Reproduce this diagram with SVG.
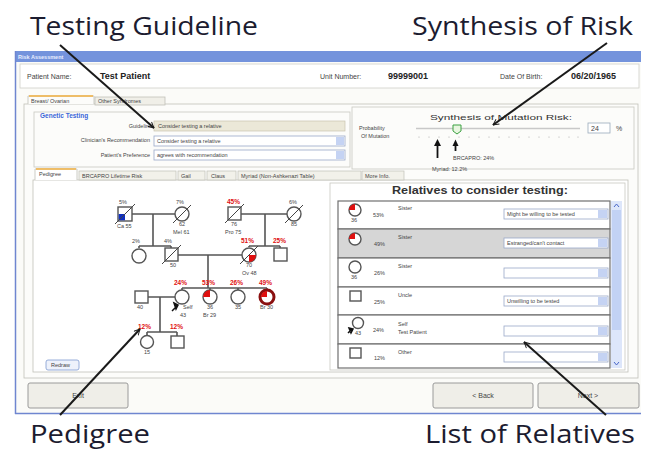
<svg xmlns="http://www.w3.org/2000/svg" width="650" height="451" viewBox="0 0 650 451">
<defs>
<style>
.cap{font-family:"Open Sans","Noto Sans","Liberation Sans",sans-serif;font-size:26px;fill:#1c1c30}
.t{font-family:"Liberation Sans",Arial,sans-serif;font-size:7px;fill:#444}
.tb{font-family:"Liberation Sans",Arial,sans-serif;font-size:9px;font-weight:bold;fill:#222}
.tr{font-family:"Liberation Sans",Arial,sans-serif;font-size:6.5px;font-weight:bold;fill:#e01010}
.ts{font-family:"Liberation Sans",Arial,sans-serif;font-size:5.5px;fill:#444}
.ln{stroke:#555;stroke-width:1.6;fill:none}
.sym{stroke:#555;stroke-width:1.4;fill:#fff}
.sl{stroke:#444;stroke-width:1}
.dd{fill:#fff;stroke:#9aa9c8;stroke-width:0.8}
.dda{fill:#c5d3f3;stroke:none}
.btn{fill:#efeee8;stroke:#9a9a9a;stroke-width:1}
.grp{fill:none;stroke:#c8c8c0;stroke-width:0.8}
.arr{stroke:#1a1a1a;stroke-width:2;fill:none}
.row{fill:#fff;stroke:#707070;stroke-width:1.2}
</style>
<marker id="ah" viewBox="0 0 12 12" refX="11" refY="6" markerWidth="7" markerHeight="7" orient="auto" markerUnits="userSpaceOnUse">
<path d="M1,1 L11,6 L1,11" fill="none" stroke="#1a1a1a" stroke-width="1.6"/>
</marker>
</defs>
<rect width="650" height="451" fill="#fff"/>

<!-- captions -->
<text class="cap" x="30" y="35" textLength="228" lengthAdjust="spacingAndGlyphs">Testing Guideline</text>
<text class="cap" x="412" y="35" textLength="221" lengthAdjust="spacingAndGlyphs">Synthesis of Risk</text>
<text class="cap" x="30" y="443" textLength="120" lengthAdjust="spacingAndGlyphs">Pedigree</text>
<text class="cap" x="425" y="443" textLength="210" lengthAdjust="spacingAndGlyphs">List of Relatives</text>

<!-- window -->
<g id="window">
<rect x="15" y="51" width="626" height="363" fill="#fbfbf8"/>
<rect x="15" y="51" width="626" height="11" fill="#7493dc"/>
<text x="18" y="59" font-family="Liberation Sans,sans-serif" font-size="5.5" fill="#e8eeff" font-weight="bold">Risk Assessment</text>
<line x1="15.5" y1="51" x2="15.5" y2="414" stroke="#6f86d0" stroke-width="1.5"/>
<line x1="15" y1="413.5" x2="641" y2="413.5" stroke="#6f86d0" stroke-width="1.5"/>
<rect x="20" y="64" width="619" height="24" fill="#fff" stroke="#d0d0c8" stroke-width="0.8"/>
<text class="t" x="27" y="79" font-size="7.5">Patient Name:</text>
<text class="tb" x="100" y="79">Test Patient</text>
<text class="t" x="320" y="79" font-size="7.5">Unit Number:</text>
<text class="tb" x="388" y="79">99999001</text>
<text class="t" x="500" y="79" font-size="7.5">Date Of Birth:</text>
<text class="tb" x="571" y="79">06/20/1965</text>
</g>

<!-- outer tabs -->
<g id="outer-tabs">
<rect x="24" y="104" width="614" height="274" fill="#fcfcfa" stroke="#c0c0b8" stroke-width="0.8"/>
<path d="M28,104 V96 H94 V104" fill="#fcfcfa" stroke="#c0c0b8" stroke-width="0.8"/>
<line x1="29" y1="96" x2="93" y2="96" stroke="#f2b040" stroke-width="1.5"/>
<text class="ts" x="31" y="102.5">Breast/ Ovarian</text>
<rect x="95" y="97" width="70" height="8" fill="#f0efe8" stroke="#c0c0b8" stroke-width="0.8"/>
<text class="ts" x="98" y="103">Other Syndromes</text>
</g>

<!-- genetic testing -->
<g id="genetic-testing">
<rect class="grp" x="34" y="112" width="316" height="55"/>
<text x="40" y="118" font-family="Liberation Sans,sans-serif" font-size="6.5" font-weight="bold" fill="#3a66d8">Genetic Testing</text>
<text class="ts" x="152" y="128" text-anchor="end">Guideline</text>
<rect x="154" y="121" width="191" height="10" fill="#ebe8d8" stroke="#c8c4b0" stroke-width="0.7"/>
<text class="ts" x="158" y="128">Consider testing a relative</text>
<text class="ts" x="150" y="142" text-anchor="end">Clinician's Recommendation</text>
<rect class="dd" x="154" y="136" width="191" height="10"/>
<rect class="dda" x="336" y="137" width="8" height="8"/>
<text class="ts" x="157" y="143">Consider testing a relative</text>
<text class="ts" x="150" y="157" text-anchor="end">Patient's Preference</text>
<rect class="dd" x="154" y="150" width="191" height="10"/>
<rect class="dda" x="336" y="151" width="8" height="8"/>
<text class="ts" x="157" y="157">agrees with recommendation</text>
</g>

<!-- synthesis -->
<g id="synthesis">
<rect class="grp" x="352" y="107" width="282" height="62"/>
<text x="430" y="120" font-family="Liberation Sans,sans-serif" font-size="8" fill="#333" textLength="142" lengthAdjust="spacingAndGlyphs">Synthesis of Mutation Risk:</text>
<text class="ts" x="359" y="130">Probability</text>
<text class="ts" x="361" y="138">Of Mutation</text>
<line x1="416" y1="128.5" x2="580" y2="128.5" stroke="#c8c8c8" stroke-width="1.5"/>
<g fill="#aaa">
<circle cx="419" cy="137" r="0.6"/><circle cx="429" cy="137" r="0.6"/><circle cx="439" cy="137" r="0.6"/><circle cx="449" cy="137" r="0.6"/><circle cx="459" cy="137" r="0.6"/><circle cx="469" cy="137" r="0.6"/><circle cx="479" cy="137" r="0.6"/><circle cx="489" cy="137" r="0.6"/><circle cx="499" cy="137" r="0.6"/><circle cx="509" cy="137" r="0.6"/><circle cx="519" cy="137" r="0.6"/><circle cx="529" cy="137" r="0.6"/><circle cx="539" cy="137" r="0.6"/><circle cx="549" cy="137" r="0.6"/><circle cx="559" cy="137" r="0.6"/><circle cx="569" cy="137" r="0.6"/><circle cx="578" cy="137" r="0.6"/>
</g>
<path d="M453,125 H461 V131 L457,134 L453,131 Z" fill="#e8f6e0" stroke="#3aa040" stroke-width="1"/>
<rect x="588" y="123" width="22" height="10" fill="#fff" stroke="#9ab" stroke-width="0.8"/>
<text class="t" x="591" y="131">24</text>
<text class="t" x="616" y="131">%</text>
<text class="ts" x="453" y="160">BRCAPRO: 24%</text>
<text class="ts" x="432" y="171">Myriad: 12.2%</text>
</g>

<!-- pedigree tabs -->
<g id="pedigree-tabs">
<rect x="33" y="180" width="595" height="192" fill="#fff" stroke="#c0c0b8" stroke-width="0.8"/>
<path d="M35,180 V169 H77 V180" fill="#fff" stroke="#c0c0b8" stroke-width="0.8"/>
<line x1="36" y1="169" x2="76" y2="169" stroke="#f2b040" stroke-width="1.5"/>
<text class="ts" x="39" y="176">Pedigree</text>
<rect x="79" y="171" width="97" height="9" fill="#f2f1ea" stroke="#c0c0b8" stroke-width="0.7"/>
<text class="ts" x="82" y="177.5">BRCAPRO Lifetime Risk</text>
<rect x="178" y="171" width="27" height="9" fill="#f2f1ea" stroke="#c0c0b8" stroke-width="0.7"/>
<text class="ts" x="181" y="177.5">Gail</text>
<rect x="207" y="171" width="29" height="9" fill="#f2f1ea" stroke="#c0c0b8" stroke-width="0.7"/>
<text class="ts" x="211" y="177.5">Claus</text>
<rect x="238" y="171" width="123" height="9" fill="#f2f1ea" stroke="#c0c0b8" stroke-width="0.7"/>
<text class="ts" x="241" y="177.5">Myriad (Non-Ashkenazi Table)</text>
<rect x="362" y="171" width="42" height="9" fill="#f2f1ea" stroke="#c0c0b8" stroke-width="0.7"/>
<text class="ts" x="365" y="177.5">More Info.</text>
<rect x="46" y="360" width="33" height="10" rx="2" fill="#eef2fb" stroke="#7f9bd0" stroke-width="0.8"/>
<text class="ts" x="51" y="367">Redraw</text>
</g>

<!-- pedigree connectors -->
<g id="pedigree-lines" class="ln">
<path d="M132,214 H175 M153,214 V246 M139,246 H171 M139,246 V248 M171,246 V248"/>
<path d="M241,214 H287 M265,214 V246 M249,246 H280 M249,246 V247 M280,246 V248"/>
<path d="M178,255 H242 M208,255 V288 M182,288 H267 M182,288 V290 M210,288 V290 M238,288 V290 M267,288 V290"/>
<path d="M148,297 H175 M160,297 V332 M147,332 H177 M147,332 V335 M177,332 V336"/>
</g>

<!-- pedigree nodes -->
<g id="p-A"><rect class="sym" x="118" y="207" width="14" height="14"/><rect x="118.7" y="214" width="6.3" height="6.3" fill="#1030c0"/><line class="sl" x1="115" y1="224" x2="135" y2="204"/><text class="ts" x="119" y="204">5%</text><text class="ts" x="117" y="228">Ca 55</text></g>
<g id="p-B"><circle class="sym" cx="182" cy="214" r="7" fill="#6a6a6a"/><line class="sl" x1="173" y1="223" x2="191" y2="205"/><text class="ts" x="176" y="204">7%</text><text class="ts" x="179" y="226">62</text><text class="ts" x="173" y="234">Mel 61</text></g>
<g id="p-C"><rect class="sym" x="228" y="207" width="13" height="13" fill="#5a5a5a"/><line class="sl" x1="225" y1="223" x2="244" y2="204"/><text class="tr" x="227" y="204">45%</text><text class="ts" x="231" y="226">76</text><text class="ts" x="225" y="234">Pro 75</text></g>
<g id="p-D"><circle class="sym" cx="294" cy="214" r="7"/><line class="sl" x1="285" y1="223" x2="303" y2="205"/><text class="ts" x="289" y="204">6%</text><text class="ts" x="291" y="226">85</text></g>
<g id="p-E"><circle class="sym" cx="139" cy="256" r="7"/><text class="ts" x="132" y="243">2%</text></g>
<g id="p-F"><rect class="sym" x="165" y="248" width="13" height="13"/><line class="sl" x1="162" y1="264" x2="181" y2="245"/><text class="ts" x="164" y="243">4%</text><text class="ts" x="170" y="267">50</text></g>
<g id="p-G"><circle class="sym" cx="249" cy="255" r="7"/><path d="M249,255 H256 A7,7 0 0 1 249,262 Z" fill="#e01010"/><line class="sl" x1="240" y1="264" x2="258" y2="246"/><text class="tr" x="241" y="243">51%</text><text class="ts" x="246" y="267">70</text><text class="ts" x="242" y="275">Ov 48</text></g>
<g id="p-H"><rect class="sym" x="274" y="248" width="13" height="13"/><text class="tr" x="273" y="243">25%</text></g>
<g id="p-I"><rect class="sym" x="135" y="291" width="13" height="12"/><text class="ts" x="137" y="309">40</text></g>
<g id="p-J"><circle class="sym" cx="182" cy="297" r="7"/><path d="M177,306 L172,311 M174,303 L178,305 L176,309 Z" stroke="#111" stroke-width="1.5" fill="#111"/><text class="tr" x="174" y="285">24%</text><text class="ts" x="183" y="309">Self</text><text class="ts" x="180" y="317">43</text></g>
<g id="p-K"><circle class="sym" cx="210" cy="297" r="7"/><path d="M210,297 H203 A7,7 0 0 1 210,290 Z" fill="#e01010"/><text class="tr" x="202" y="285">53%</text><text class="ts" x="207" y="309">36</text><text class="ts" x="203" y="317">Br 29</text></g>
<g id="p-L"><circle class="sym" cx="238" cy="297" r="7"/><text class="tr" x="230" y="285">26%</text><text class="ts" x="235" y="309">35</text></g>
<g id="p-M"><circle cx="267" cy="297" r="7" fill="#fff" stroke="#8a1010" stroke-width="3"/><path d="M267,297 H261 A6,6 0 0 1 267,291 Z" fill="#e01010"/><text class="tr" x="259" y="285">49%</text><text class="ts" x="260" y="309">Br 30</text></g>
<g id="p-N"><circle class="sym" cx="147" cy="342" r="6.5"/><text class="tr" x="138" y="329">12%</text><text class="ts" x="144" y="354">15</text></g>
<g id="p-O"><rect class="sym" x="171" y="336" width="13" height="12"/><text class="tr" x="170" y="329">12%</text></g>

<!-- relatives list -->
<g id="relatives">
<rect x="330" y="183" width="295" height="187" fill="#fff" stroke="#c8c8c0" stroke-width="0.8"/>
<text x="392" y="194" font-family="Liberation Sans,sans-serif" font-size="10" font-weight="bold" fill="#333" textLength="176" lengthAdjust="spacingAndGlyphs">Relatives to consider testing:</text>
<rect x="611" y="201" width="11" height="167" fill="#dde6fa"/>
<rect x="612" y="210" width="9" height="120" fill="#c2d2f4"/>
<path d="M614,207 L616.5,204 L619,207" fill="none" stroke="#4a68c8" stroke-width="1"/>
<path d="M614,362 L616.5,365 L619,362" fill="none" stroke="#4a68c8" stroke-width="1"/>

<g id="rel-1"><rect class="row" x="338" y="201" width="272" height="28"/><circle class="sym" cx="355" cy="210" r="6"/><path d="M355,210 H349 A6,6 0 0 1 355,204 Z" fill="#e01010"/><text class="ts" x="351" y="222">36</text><text class="ts" x="373" y="217">53%</text><text class="ts" x="398" y="210">Sister</text><rect class="dd" x="504" y="209" width="104" height="10"/><rect class="dda" x="598" y="210" width="9" height="8"/><text class="ts" x="507" y="216">Might be willing to be tested</text></g>
<g id="rel-2"><rect x="338" y="229" width="272" height="29" fill="#d6d6d6" stroke="#707070" stroke-width="1.2"/><circle class="sym" cx="355" cy="239" r="6"/><path d="M355,239 H349 A6,6 0 0 1 355,233 Z" fill="#e01010"/><text class="ts" x="374" y="246">49%</text><text class="ts" x="398" y="239">Sister</text><rect class="dd" x="504" y="238" width="104" height="10"/><rect class="dda" x="598" y="239" width="9" height="8"/><text class="ts" x="507" y="245">Estranged/can't contact</text></g>
<g id="rel-3"><rect class="row" x="338" y="258" width="272" height="29"/><circle class="sym" cx="355" cy="267" r="6"/><text class="ts" x="351" y="279">36</text><text class="ts" x="374" y="275">26%</text><text class="ts" x="398" y="268">Sister</text><rect class="dd" x="504" y="268" width="104" height="10"/><rect class="dda" x="598" y="269" width="9" height="8"/></g>
<g id="rel-4"><rect class="row" x="338" y="287" width="272" height="28"/><rect class="sym" x="350" y="291" width="11" height="10"/><text class="ts" x="374" y="304">25%</text><text class="ts" x="398" y="297">Uncle</text><rect class="dd" x="504" y="296" width="104" height="10"/><rect class="dda" x="598" y="297" width="9" height="8"/><text class="ts" x="507" y="303">Unwilling to be tested</text></g>
<g id="rel-5"><rect class="row" x="338" y="315" width="272" height="29"/><circle class="sym" cx="358" cy="323" r="5.5"/><path d="M352,329 L348,333 M349,328 L353,329 L351,333 Z" stroke="#111" stroke-width="1.5" fill="#111"/><text class="ts" x="355" y="335">43</text><text class="ts" x="373" y="332">24%</text><text class="ts" x="398" y="326">Self</text><text class="ts" x="398" y="334">Test Patient</text><rect class="dd" x="504" y="326" width="104" height="10"/><rect class="dda" x="598" y="327" width="9" height="8"/></g>
<g id="rel-6"><rect class="row" x="338" y="344" width="272" height="24"/><rect class="sym" x="350" y="348" width="11" height="10"/><text class="ts" x="374" y="360">12%</text><text class="ts" x="398" y="354">Other</text><rect class="dd" x="504" y="352" width="104" height="10"/><rect class="dda" x="598" y="353" width="9" height="8"/></g>
</g>

<!-- buttons -->
<g id="btn-exit"><rect class="btn" x="28" y="383" width="100" height="25" rx="2"/><text class="t" x="78" y="398" text-anchor="middle">Exit</text></g>
<g id="btn-back"><rect class="btn" x="433" y="383" width="100" height="25" rx="2"/><text class="t" x="483" y="398" text-anchor="middle">&lt; Back</text></g>
<g id="btn-next"><rect class="btn" x="538" y="383" width="101" height="25" rx="2"/><text class="t" x="588" y="398" text-anchor="middle">Next &gt;</text></g>

<!-- annotation connectors -->
<g id="connectors">
<line class="arr" x1="60" y1="45" x2="154" y2="128" marker-end="url(#ah)"/>
<line class="arr" x1="607" y1="43" x2="493" y2="125" marker-end="url(#ah)"/>
<line class="arr" x1="60" y1="415" x2="140" y2="329" marker-end="url(#ah)"/>
<line class="arr" x1="606" y1="415" x2="524" y2="342" marker-end="url(#ah)"/>
<line x1="437.5" y1="158" x2="437.5" y2="145" stroke="#111" stroke-width="1.8"/>
<path d="M434,146 L437.5,139 L441,146 Z" fill="#111"/>
<line x1="455.5" y1="151" x2="455.5" y2="145" stroke="#111" stroke-width="1.8"/>
<path d="M452.5,146 L455.5,139.5 L458.5,146 Z" fill="#111"/>
</g>
</svg>
